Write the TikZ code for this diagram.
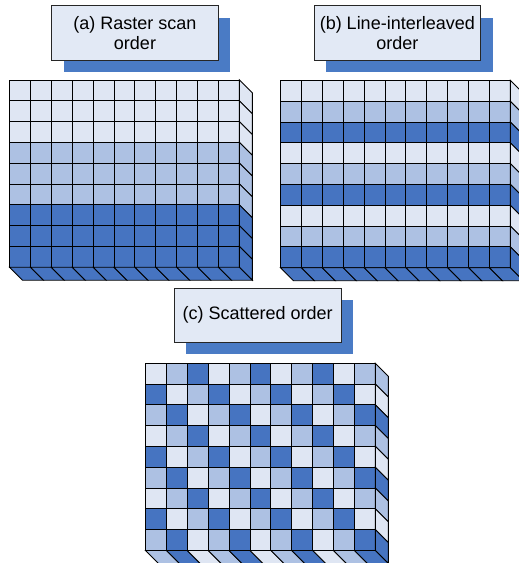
\documentclass[tikz,border=0pt]{standalone}
\usepackage{fontspec}
\setmainfont{Liberation Sans}
\usetikzlibrary{shadows}

% cell shades: 0 = light, 1 = medium, 2 = dark
\definecolor{shade0}{HTML}{DFE6F3}
\definecolor{shade1}{HTML}{ADC1E3}
\definecolor{shade2}{HTML}{4674C1}
\definecolor{boxfill}{HTML}{E2E9F5}
\definecolor{shadowblue}{HTML}{4A7BC5}

\tikzset{
  cell/.style={draw=black, line width=0.9pt, line join=miter},
  labelbox/.style={draw=black!85, line width=0.8pt, fill=boxfill,
    minimum width=166.7pt, minimum height=54.3pt, inner sep=0pt,
    align=center, font=\fontsize{18}{20}\selectfont,
    drop shadow={shadow xshift=12pt, shadow yshift=-12pt,
      fill=shadowblue, opacity=1}},
}

% cell size and depth offset of the side faces
\def\cw{20.9}
\def\ch{20.8}
\def\dx{13}
\def\dy{13}

% #1,#2: top-left corner of the front face; #3: shade index as a
% function of the row \r and the column \c
\newcommand{\cellblock}[3]{%
  \begin{scope}[shift={(#1,#2)}]
    % front face
    \foreach \r in {0,...,8}{
      \foreach \c in {0,...,10}{
        \pgfmathtruncatemacro\k{#3}
        \filldraw[cell, fill=shade\k] (\c*\cw,\r*\ch) rectangle ++(\cw,\ch);
      }
    }
    % bottom face, one slanted tile per column
    \foreach \c in {0,...,10}{
      \def\r{8}
      \pgfmathtruncatemacro\k{#3}
      \filldraw[cell, fill=shade\k] (\c*\cw,9*\ch) -- ++(\cw,0)
        -- ++(\dx,\dy) -- ++(-\cw,0) -- cycle;
    }
    % right face, one slanted tile per row
    \foreach \r in {0,...,8}{
      \def\c{10}
      \pgfmathtruncatemacro\k{#3}
      \filldraw[cell, fill=shade\k] (11*\cw,\r*\ch) -- ++(\dx,\dy)
        -- ++(0,\ch) -- ++(-\dx,-\dy) -- cycle;
    }
  \end{scope}}

\begin{document}
\begin{tikzpicture}[x=1pt, y=-1pt]
  \useasboundingbox (0,0) rectangle (519,563);

  % block grids
  \cellblock{9.5}{80}{int(\r/3)}
  \cellblock{280.5}{80.5}{mod(\r,3)}
  \cellblock{145.5}{363.3}{mod(\c-\r+9,3)}

  % captions
  \node[labelbox] (capA) at (135,32.85) {(a) Raster scan\\order};
  \node[labelbox] (capB) at (397.3,32.85) {(b) Line-interleaved\\order};
  \node[labelbox] (capC) at (257.7,315.3) {(c) Scattered order};
\end{tikzpicture}
\end{document}
